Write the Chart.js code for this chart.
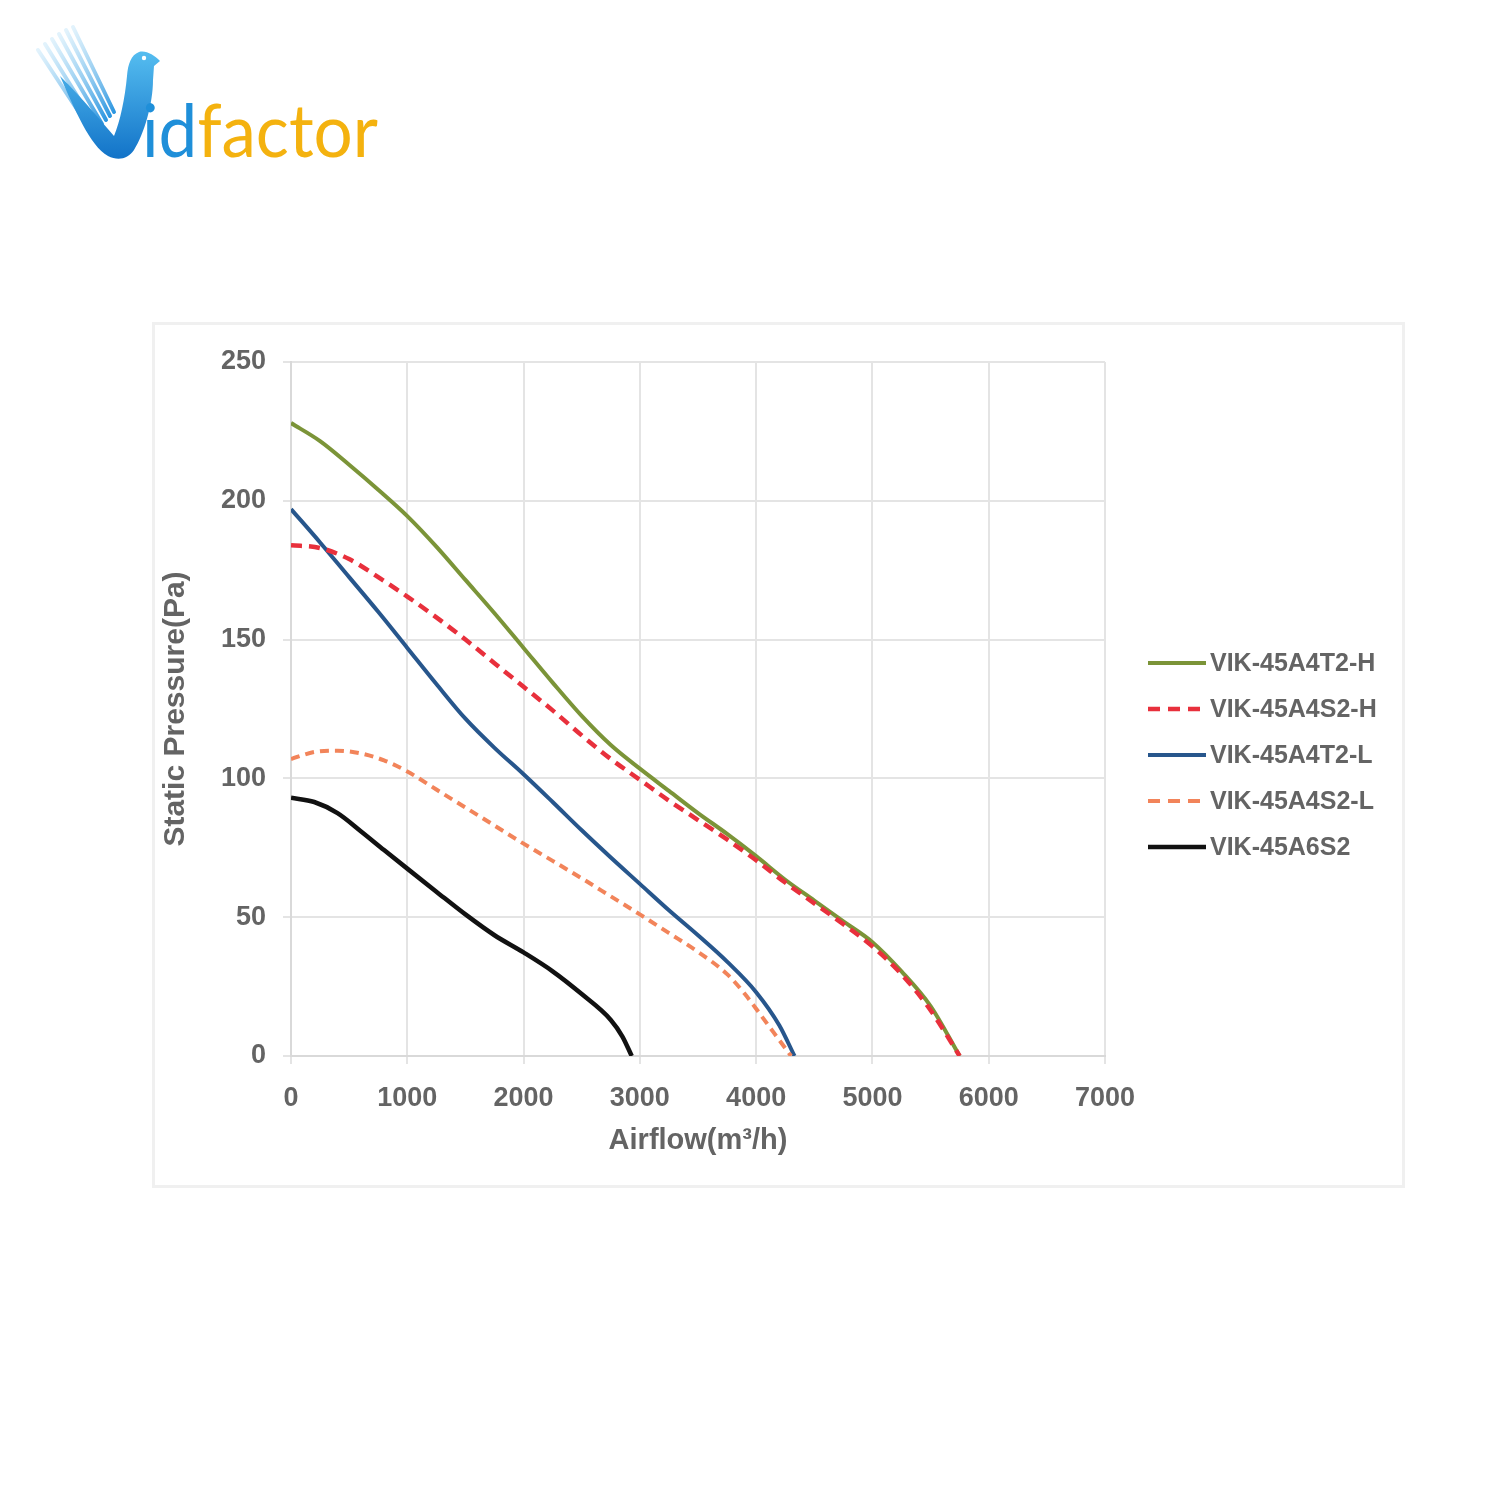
<!DOCTYPE html>
<html>
<head>
<meta charset="utf-8">
<title>Static pressure vs airflow</title>
<script src="https://cdn.jsdelivr.net/npm/chart.js@4.4.1/dist/chart.umd.min.js"></script>
<style>
  html, body { margin: 0; padding: 0; background: #fff; }
  body { width: 1500px; height: 1500px; position: relative; overflow: hidden; }
  #logo { position: absolute; left: 0; top: 0; }
  #panel {
    position: absolute; left: 155px; top: 325px;
    width: 1247px; height: 860px;
    box-shadow: 0 0 0 3px #f0f0f0;
  }
</style>
</head>
<body>

<!-- brand logo -->
<svg id="logo" width="420" height="200" viewBox="0 0 420 200">
  <defs>
    <linearGradient id="vGrad" x1="0" y1="0" x2="0" y2="1">
      <stop offset="0" stop-color="#55bdf0"/>
      <stop offset="1" stop-color="#1273c8"/>
    </linearGradient>
    <linearGradient id="streak" x1="0" y1="0" x2="1" y2="1">
      <stop offset="0" stop-color="#9fd6f5" stop-opacity="0.3"/>
      <stop offset="1" stop-color="#2c96e0"/>
    </linearGradient>
  </defs>
  <g stroke="url(#streak)" stroke-linecap="round" stroke-width="4">
    <line x1="38" y1="50" x2="92" y2="132"/>
    <line x1="45" y1="44" x2="97" y2="128"/>
    <line x1="52" y1="39" x2="102" y2="124"/>
    <line x1="59" y1="34" x2="106" y2="120"/>
    <line x1="66" y1="30" x2="110" y2="116"/>
    <line x1="73" y1="27" x2="114" y2="112"/>
  </g>
  <path fill="url(#vGrad)"
        d="M 60 76 C 74 108, 90 146, 108 156 C 118 161, 128 159, 134 150
           C 144 134, 153 104, 153 80 L 154 66 L 160 61
           C 154 55, 146 50, 139 52 C 131 55, 128 64, 127 76
           C 125 98, 120 122, 114 136 C 100 120, 84 100, 60 76 Z"/>
  <circle cx="144" cy="58" r="2.2" fill="#ffffff"/>
  <text x="142" y="157" font-family="Lato, 'Noto Sans', sans-serif" font-size="74"
        textLength="236" lengthAdjust="spacingAndGlyphs"><tspan fill="#1f8fd9">id</tspan><tspan fill="#f4b20f">factor</tspan></text>
</svg>

<div id="panel"><canvas id="pqChart" width="1247" height="860"></canvas></div>

<script>
// ── Data (airflow m³/h → static pressure Pa) ──
const SERIES_NAMES = ['VIK-45A4T2-H', 'VIK-45A4S2-H', 'VIK-45A4T2-L', 'VIK-45A4S2-L', 'VIK-45A6S2'];

const AIRFLOW_T2H  = [0, 250, 500, 750, 1000, 1250, 1500, 1750, 2000, 2250, 2500, 2750, 3000, 3250, 3500, 3750, 4000, 4250, 4500, 4750, 5000, 5250, 5500, 5750];
const PRESSURE_T2H = [228, 221.5, 213, 204, 194.5, 183.5, 171.5, 159.5, 147, 134.5, 122.5, 112, 103.5, 95.5, 87.5, 80, 72, 63.5, 56, 48.5, 41, 30.5, 18, 0];

const AIRFLOW_S2H  = [0, 250, 500, 750, 1000, 1250, 1500, 1750, 2000, 2250, 2500, 2750, 3000, 3250, 3500, 3750, 4000, 4250, 4500, 4750, 5000, 5250, 5500, 5750];
const PRESSURE_S2H = [184, 183, 179, 172.5, 165.5, 158, 150, 141.5, 133, 124.5, 115.5, 107, 99.5, 92, 85, 78, 70.5, 62.5, 55, 47.5, 39.5, 29.5, 16.5, 0];

const AIRFLOW_T2L  = [0, 250, 500, 750, 1000, 1250, 1500, 1750, 2000, 2250, 2500, 2750, 3000, 3250, 3500, 3750, 4000, 4200, 4330];
const PRESSURE_T2L = [197, 185, 172.5, 160, 147, 134, 121.5, 111, 101.5, 91.5, 81.3, 71.5, 62, 52.5, 43.5, 34, 23, 11, 0];

const AIRFLOW_S2L  = [0, 200, 400, 600, 800, 1000, 1250, 1500, 1750, 2000, 2250, 2500, 2750, 3000, 3250, 3500, 3750, 3900, 4000, 4150, 4300];
const PRESSURE_S2L = [107, 109.5, 110, 109, 106.5, 102.5, 96, 89.5, 83, 76.5, 70.3, 64, 57.5, 51, 44.3, 37.5, 29.5, 22.5, 17, 8.5, 0];

const AIRFLOW_6S2  = [0, 200, 400, 600, 800, 1000, 1250, 1500, 1750, 2000, 2250, 2500, 2750, 2850, 2930];
const PRESSURE_6S2 = [93, 91.5, 87.5, 81, 74.2, 67.5, 59.2, 51, 43.5, 37.3, 30.5, 22.3, 13, 7, 0];

const X_MIN = 0, X_MAX = 7000, X_STEP = 1000;
const Y_MIN = 0, Y_MAX = 250, Y_STEP = 50;

// ── helpers ──────────────────────────────────────────────
const FONT_FAMILY = "'Liberation Sans', Arial, sans-serif";
const TEXT_GREY   = '#646464';
const GRID_GREY   = '#e4e4e4';

function toPoints(xs, ys) {
  return xs.map((x, i) => ({ x: x, y: ys[i] }));
}

function curve(label, xs, ys, color, width, dash, order) {
  return {
    label: label,
    data: toPoints(xs, ys),
    borderColor: color,
    backgroundColor: color,
    borderWidth: width,
    borderDash: dash || [],
    pointRadius: 0,
    fill: false,
    order: order || 0,
    cubicInterpolationMode: 'monotone',
  };
}

// ── Legend drawn beside the plot, short line + label ─────
const sideLegend = {
  id: 'sideLegend',
  afterDraw(chart) {
    const ctx = chart.ctx;
    chart.data.datasets.forEach((ds, i) => {
      const y = 338 + i * 46;
      ctx.save();
      ctx.strokeStyle = ds.borderColor;
      ctx.lineWidth = ds.borderWidth;
      ctx.setLineDash(ds.borderDash.length ? [12, 8] : []);
      ctx.beginPath();
      ctx.moveTo(993, y);
      ctx.lineTo(1051, y);
      ctx.stroke();
      ctx.setLineDash([]);
      ctx.fillStyle = TEXT_GREY;
      ctx.font = 'bold 25px ' + FONT_FAMILY;
      ctx.textBaseline = 'middle';
      ctx.fillText(ds.label, 1055, y + 1);
      ctx.restore();
    });
  }
};

const plainTick = (v) => String(v);

new Chart(document.getElementById('pqChart'), {
  type: 'line',
  data: {
    datasets: [
      curve(SERIES_NAMES[0], AIRFLOW_T2H, PRESSURE_T2H, '#7b9438', 4),
      curve(SERIES_NAMES[1], AIRFLOW_S2H, PRESSURE_S2H, '#e8303c', 4.5, [11, 7], -1),
      curve(SERIES_NAMES[2], AIRFLOW_T2L, PRESSURE_T2L, '#27568c', 4),
      curve(SERIES_NAMES[3], AIRFLOW_S2L, PRESSURE_S2L, '#f2845a', 4, [9, 6], -1),
      curve(SERIES_NAMES[4], AIRFLOW_6S2, PRESSURE_6S2, '#111111', 4.5),
    ]
  },
  options: {
    responsive: false,
    animation: false,
    devicePixelRatio: 1,
    layout: { padding: { left: 0, top: 37, right: 297, bottom: 0 } },
    plugins: {
      legend: { display: false },
      tooltip: { enabled: false },
    },
    scales: {
      x: {
        type: 'linear',
        min: X_MIN, max: X_MAX,
        afterFit: (s) => { s.height = 129; },
        grid: { color: GRID_GREY, lineWidth: 2, tickLength: 8 },
        border: { color: '#d9d9d9', width: 2 },
        ticks: {
          stepSize: X_STEP,
          padding: 18,
          color: TEXT_GREY,
          callback: plainTick,
          font: { family: FONT_FAMILY, size: 27, weight: 'bold' },
        },
        title: {
          display: true,
          text: 'Airflow(m³/h)',
          color: TEXT_GREY,
          padding: { top: 0, bottom: 27 },
          font: { family: FONT_FAMILY, size: 29, weight: 'bold' },
        }
      },
      y: {
        min: Y_MIN, max: Y_MAX,
        afterFit: (s) => { s.width = 136; },
        grid: { color: GRID_GREY, lineWidth: 2, tickLength: 8 },
        border: { color: '#d9d9d9', width: 2 },
        ticks: {
          stepSize: Y_STEP,
          padding: 17,
          color: TEXT_GREY,
          callback: plainTick,
          font: { family: FONT_FAMILY, size: 27, weight: 'bold' },
        },
        title: {
          display: true,
          text: 'Static Pressure(Pa)',
          color: TEXT_GREY,
          padding: { top: 3, bottom: 0 },
          font: { family: FONT_FAMILY, size: 30, weight: 'bold' },
        }
      }
    }
  },
  plugins: [sideLegend]
});
</script>
</body>
</html>
